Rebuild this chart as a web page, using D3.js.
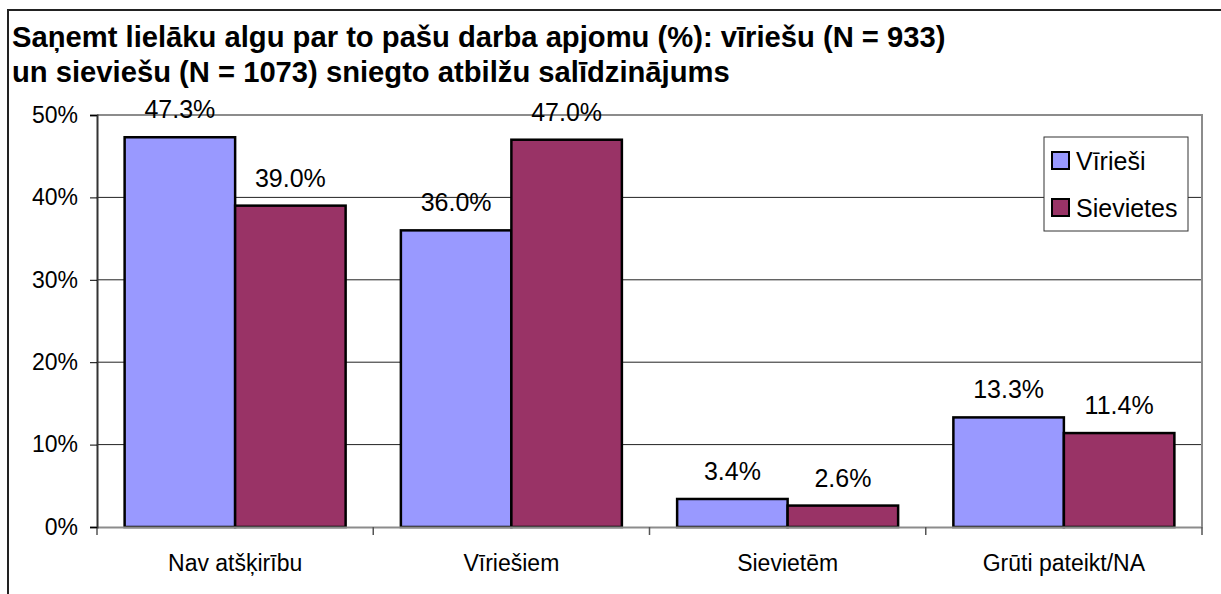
<!DOCTYPE html>
<html>
<head>
<meta charset="utf-8">
<script src="https://cdn.jsdelivr.net/npm/d3@7"></script>
<style>
  body { margin: 0; background: #fff; }
  svg { display: block; font-family: Arial, "Liberation Sans", sans-serif; }
</style>
</head>
<body>
<svg id="chart" width="1221" height="594"></svg>
<script>
// data
const categories = ["Nav atšķirību", "Vīriešiem", "Sievietēm", "Grūti pateikt/NA"];
const seriesNames = ["Vīrieši", "Sievietes"];
const men = [47.3, 36.0, 3.4, 13.3];
const women = [39.0, 47.0, 2.6, 11.4];
const yTicks = [0, 10, 20, 30, 40, 50];
const titleLines = [
  "Saņemt lielāku algu par to pašu darba apjomu (%): vīriešu (N = 933)",
  "un sieviešu (N = 1073) sniegto atbilžu salīdzinājums"
];

const colors = { "Vīrieši": "#9999ff", "Sievietes": "#993366" };
const plot = { left: 97, right: 1202, top: 115, bottom: 527 };

const svg = d3.select("#chart");

// outer chart frame (only left/top edges are inside the picture)
svg.append("rect")
  .attr("x", 8).attr("y", 10)
  .attr("width", 1240).attr("height", 620)
  .attr("fill", "#fff")
  .attr("stroke", "#222")
  .attr("stroke-width", 2);

// title
svg.append("g")
  .selectAll("text")
  .data(titleLines)
  .enter()
  .append("text")
  .attr("x", 12)
  .attr("y", (d, i) => 47 + i * 35)
  .attr("font-size", 29.2)
  .attr("font-weight", "bold")
  .attr("fill", "#000")
  .text(d => d);

const x0 = d3.scaleBand()
  .domain(categories)
  .range([plot.left, plot.right])
  .paddingInner(0)
  .paddingOuter(0);

const x1 = d3.scaleBand()
  .domain(seriesNames)
  .range([0, x0.bandwidth()])
  .paddingInner(0)
  .paddingOuter(0.25);

const y = d3.scaleLinear()
  .domain([0, 50])
  .range([plot.bottom, plot.top]);

// gridlines
svg.append("g")
  .selectAll("line")
  .data(yTicks.filter(t => t > 0 && t < 50))
  .enter()
  .append("line")
  .attr("x1", plot.left).attr("x2", plot.right)
  .attr("y1", d => y(d)).attr("y2", d => y(d))
  .attr("stroke", "#222")
  .attr("stroke-width", 1);

// plot area top / right border
svg.append("path")
  .attr("d", `M${plot.left},${plot.top}H${plot.right}V${plot.bottom}`)
  .attr("fill", "none")
  .attr("stroke", "#8c8c8c")
  .attr("stroke-width", 2);

// bars
const rows = categories.map((c, i) => ({
  cat: c,
  vals: [
    { name: seriesNames[0], v: men[i] },
    { name: seriesNames[1], v: women[i] }
  ]
}));

const groups = svg.append("g")
  .selectAll("g")
  .data(rows)
  .enter()
  .append("g")
  .attr("transform", d => `translate(${x0(d.cat)},0)`);

groups.selectAll("rect")
  .data(d => d.vals)
  .enter()
  .append("rect")
  .attr("x", d => x1(d.name))
  .attr("y", d => y(d.v))
  .attr("width", x1.bandwidth())
  .attr("height", d => y(0) - y(d.v))
  .attr("fill", d => colors[d.name])
  .attr("stroke", "#000")
  .attr("stroke-width", 2.5);

groups.selectAll("text")
  .data(d => d.vals)
  .enter()
  .append("text")
  .attr("x", d => x1(d.name) + x1.bandwidth() / 2)
  .attr("y", d => y(d.v) - 19)
  .attr("text-anchor", "middle")
  .attr("font-size", 25)
  .attr("fill", "#000")
  .text(d => d.v.toFixed(1) + "%");

// x axis
const xAxis = svg.append("g")
  .attr("transform", `translate(0,${plot.bottom})`)
  .call(d3.axisBottom(x0).tickSize(0).tickPadding(28));
xAxis.select(".domain").attr("stroke", "#8c8c8c").attr("stroke-width", 2);
xAxis.selectAll("text").attr("font-size", 23).attr("fill", "#000").attr("font-family", null);

// category separator ticks
svg.append("g")
  .selectAll("line")
  .data(categories.concat(["end"]))
  .enter()
  .append("line")
  .attr("x1", (d, i) => i < categories.length ? x0(d) : plot.right)
  .attr("x2", (d, i) => i < categories.length ? x0(d) : plot.right)
  .attr("y1", plot.bottom)
  .attr("y2", plot.bottom + 8)
  .attr("stroke", "#555")
  .attr("stroke-width", 1.5);

// y axis
const yAxis = svg.append("g")
  .attr("transform", `translate(${plot.left},0)`)
  .call(d3.axisLeft(y)
    .tickValues(yTicks)
    .tickSize(7)
    .tickPadding(12)
    .tickFormat(d => d + "%"));
yAxis.select(".domain").attr("stroke", "#333").attr("stroke-width", 2);
yAxis.selectAll(".tick line").attr("stroke", "#000");
yAxis.selectAll("text").attr("font-size", 23).attr("fill", "#000").attr("font-family", null);

// legend
const legend = svg.append("g").attr("transform", "translate(1044,137)");
legend.append("rect")
  .attr("width", 144).attr("height", 94)
  .attr("fill", "#fff")
  .attr("stroke", "#333")
  .attr("stroke-width", 1);
const items = legend.selectAll("g.item")
  .data(seriesNames)
  .enter()
  .append("g")
  .attr("class", "item")
  .attr("transform", (d, i) => `translate(8,${15 + i * 47})`);
items.append("rect")
  .attr("width", 17).attr("height", 17)
  .attr("fill", d => colors[d])
  .attr("stroke", "#000")
  .attr("stroke-width", 2);
items.append("text")
  .attr("x", 24).attr("y", 18)
  .attr("font-size", 25)
  .attr("fill", "#000")
  .text(d => d);
</script>
</body>
</html>
